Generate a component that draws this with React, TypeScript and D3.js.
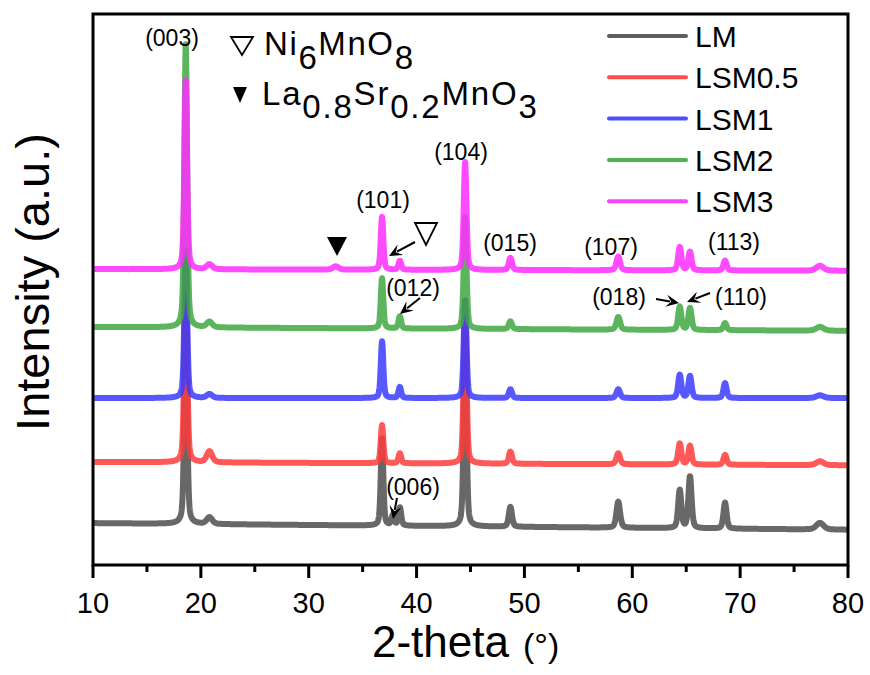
import React from 'react';
import * as d3 from 'd3';

const W = 870;
const H = 675;
const PL = 93, PR = 848, PT = 14, PB = 565;

const seriesNames = ['LM', 'LSM0.5', 'LSM1', 'LSM2', 'LSM3'];
const seriesColors = ['#4d4d4d', '#ff3b3b', '#3b3bff', '#40a840', '#ff2bff'];
// background intensity (a.u.) at 10° and at 80°
const baseStart = [76, 187, 303, 432, 537];
const baseEnd = [64, 181, 303, 425, 534];

const peakPositions = [18.6, 20.8, 32.5, 36.8, 37.8, 38.45, 44.5, 48.7, 58.7, 64.4, 65.35, 68.6, 77.4];
const peakFwhm = [0.3, 0.6, 0.6, 0.28, 0.3, 0.3, 0.3, 0.35, 0.4, 0.35, 0.35, 0.35, 0.8];
const peaksLM = [412, 12, 0, 158, 18, 33, 358, 36, 47, 69, 94, 47, 12];
const peaksLSM05 = [368, 20, 0, 69, 0, 18, 296, 22, 20, 38, 34, 18, 7];
const peaksLSM1 = [269, 7, 0, 103, 0, 20, 178, 16, 16, 42, 40, 27, 5];
const peaksLSM2 = [514, 10, 0, 91, 0, 22, 203, 14, 23, 42, 40, 13, 7];
const peaksLSM3 = [343, 9, 6, 96, 0, 16, 196, 22, 25, 42, 34, 18, 9];
const seriesPeaks = [peaksLM, peaksLSM05, peaksLSM1, peaksLSM2, peaksLSM3];

const xTicks = [10, 20, 30, 40, 50, 60, 70, 80];
const xMinorTicks = [15, 25, 35, 45, 55, 65, 75];

const x = d3.scaleLinear().domain([10, 80]).range([PL, PR]);
const y = d3.scaleLinear().domain([0, 1000]).range([PB, PT]);

function profile(si: number, t: number) {
  const b = baseStart[si] + (baseEnd[si] - baseStart[si]) * (t - 10) / 70;
  let v = b;
  const pk = seriesPeaks[si];
  for (let i = 0; i < peakPositions.length; i++) {
    const h = pk[i];
    if (!h) continue;
    const d = (t - peakPositions[i]) / peakFwhm[i];
    const L = 1 / (1 + 4 * d * d);
    const G = Math.exp(-4 * Math.LN2 * d * d);
    v += h * (0.4 * L + 0.6 * G);
  }
  return v;
}

const grid = d3.range(10, 80.0001, 0.02);

const FONT = "'Liberation Sans', Arial, Helvetica, sans-serif";

function Arrow({ x1, y1, x2, y2 }: { x1: number; y1: number; x2: number; y2: number }) {
  const ang = Math.atan2(y2 - y1, x2 - x1);
  const L = 13, Wd = 6;
  const bx = x2 - L * Math.cos(ang), by = y2 - L * Math.sin(ang);
  const nx = -Math.sin(ang), ny = Math.cos(ang);
  const p = `M${x2},${y2}L${bx + nx * Wd},${by + ny * Wd}L${x2 - 0.6 * L * Math.cos(ang)},${y2 - 0.6 * L * Math.sin(ang)}L${bx - nx * Wd},${by - ny * Wd}Z`;
  return (
    <g>
      <line x1={x1} y1={y1} x2={x2 - 0.7 * L * Math.cos(ang)} y2={y2 - 0.7 * L * Math.sin(ang)} stroke="#000" strokeWidth={2} />
      <path d={p} fill="#000" />
    </g>
  );
}

export default function App() {
  const paths = seriesNames.map((_, si) =>
    d3.line<number>().x((t) => x(t)).y((t) => y(profile(si, t)))(grid) as string
  );
  const labelStyle = { fontFamily: FONT, fontSize: 23, fill: '#000' } as const;
  return (
    <svg width={W} height={H} style={{ position: 'absolute', left: 0, top: 0, background: '#fff' }}>
      <defs>
        <clipPath id="plotclip">
          <rect x={PL} y={PT} width={PR - PL} height={PB - PT} />
        </clipPath>
      </defs>
      <rect x={0} y={0} width={W} height={H} fill="#fff" />
      <g clipPath="url(#plotclip)">
        {paths.map((d, i) => (
          <path key={i} d={d} fill="none" stroke={seriesColors[i]} strokeWidth={6} strokeOpacity={0.85} strokeLinejoin="round" />
        ))}
      </g>
      {/* frame */}
      <rect x={PL} y={PT} width={PR - PL} height={PB - PT} fill="none" stroke="#000" strokeWidth={3} />
      {/* ticks */}
      {xTicks.map((t) => (
        <g key={'M' + t}>
          <line x1={x(t)} x2={x(t)} y1={PB} y2={PB + 13} stroke="#000" strokeWidth={3} />
          <text x={x(t)} y={613} textAnchor="middle" fontFamily={FONT} fontSize={29} fill="#000">{t}</text>
        </g>
      ))}
      {xMinorTicks.map((t) => (
        <line key={'m' + t} x1={x(t)} x2={x(t)} y1={PB} y2={PB + 7} stroke="#000" strokeWidth={3} />
      ))}
      {/* axis titles */}
      <text x={372} y={657} fontFamily={FONT} fontSize={44} fill="#000">
        2-theta<tspan fontSize={34} dx={14}>(°)</tspan>
      </text>
      <text transform={`translate(49,282) rotate(-90)`} textAnchor="middle" fontFamily={FONT} fontSize={47} fill="#000">
        Intensity (a.u.)
      </text>
      {/* legend */}
      {seriesNames.map((n, i) => {
        const ly = 36 + i * 41.3;
        return (
          <g key={n}>
            <line x1={609} x2={686} y1={ly} y2={ly} stroke={seriesColors[i]} strokeWidth={4} strokeLinecap="round" strokeOpacity={0.9} />
            <text x={695} y={ly + 11} fontFamily={FONT} fontSize={30} fill="#000">{n}</text>
          </g>
        );
      })}
      {/* phase labels */}
      <path d="M231,37L253,37L242,55Z" fill="none" stroke="#000" strokeWidth={1.8} />
      <text x={264} y={55} fontFamily={FONT} fontSize={33} letterSpacing={1.6} fill="#000">
        Ni<tspan dy={14}>6</tspan><tspan dy={-14}>MnO</tspan><tspan dy={14}>8</tspan>
      </text>
      <path d="M233,87L247,87L240,103Z" fill="#000" />
      <text x={262} y={105} fontFamily={FONT} fontSize={33} letterSpacing={1.8} fill="#000">
        La<tspan dy={13}>0.8</tspan><tspan dy={-13}>Sr</tspan><tspan dy={13}>0.2</tspan><tspan dy={-13}>MnO</tspan><tspan dy={13}>3</tspan>
      </text>
      {/* peak labels */}
      <text x={172} y={46} textAnchor="middle" {...labelStyle}>(003)</text>
      <text x={383} y={208} textAnchor="middle" {...labelStyle}>(101)</text>
      <text x={461} y={160} textAnchor="middle" {...labelStyle}>(104)</text>
      <text x={510} y={251} textAnchor="middle" {...labelStyle}>(015)</text>
      <text x={611} y={255} textAnchor="middle" {...labelStyle}>(107)</text>
      <text x={734} y={250} textAnchor="middle" {...labelStyle}>(113)</text>
      <text x={413} y={296} textAnchor="middle" {...labelStyle}>(012)</text>
      <text x={619} y={305} textAnchor="middle" {...labelStyle}>(018)</text>
      <text x={741} y={305} textAnchor="middle" {...labelStyle}>(110)</text>
      <text x={413} y={495} textAnchor="middle" {...labelStyle}>(006)</text>
      {/* markers */}
      <path d="M415,223L437,223L426,245Z" fill="none" stroke="#000" strokeWidth={1.8} />
      <path d="M327,237L347,237L337,256Z" fill="#000" />
      {/* arrows */}
      <Arrow x1={415} y1={242} x2={389} y2={256} />
      <Arrow x1={420} y1={298} x2={400} y2={314} />
      <Arrow x1={656} y1={299} x2={679} y2={303} />
      <Arrow x1={710} y1={293} x2={687} y2={302} />
      <Arrow x1={397} y1={498} x2={393} y2={519} />
    </svg>
  );
}
